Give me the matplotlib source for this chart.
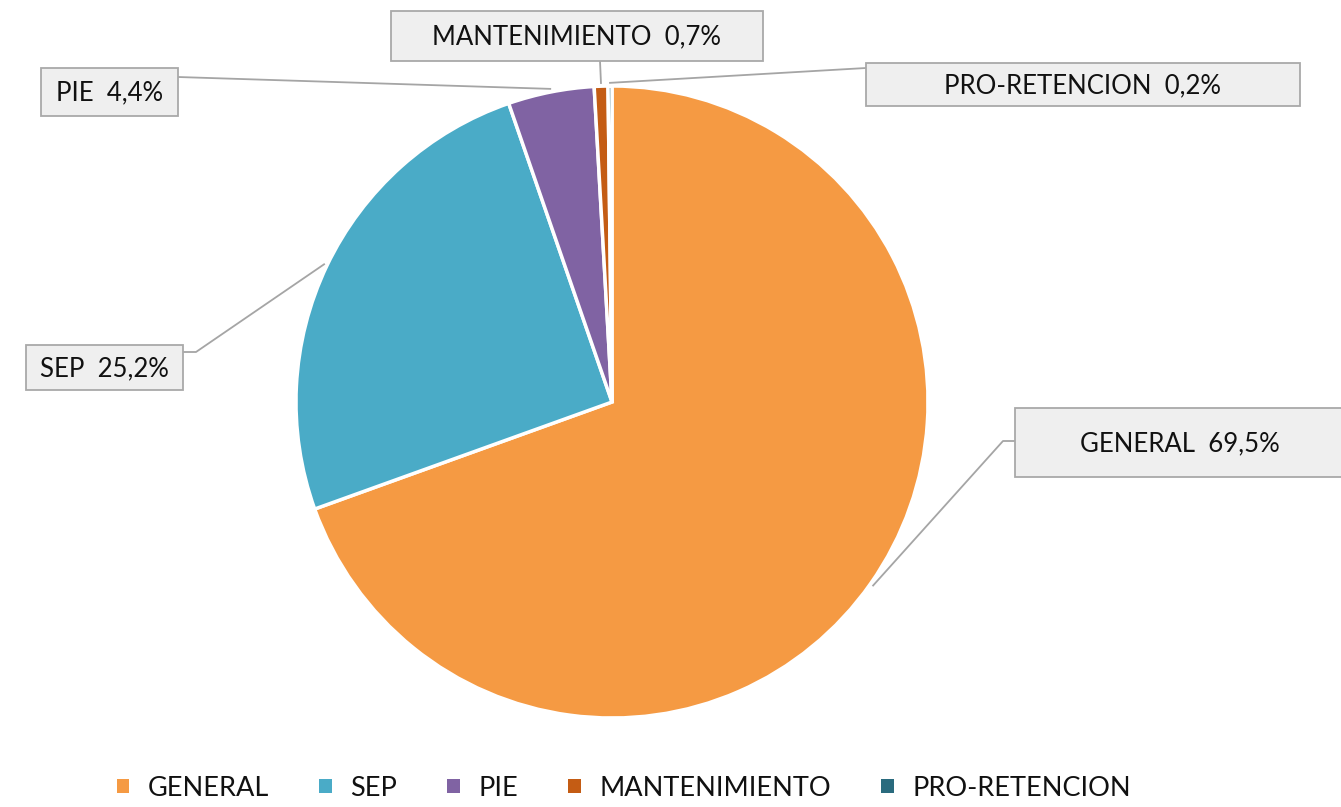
import numpy as np
import matplotlib
matplotlib.use("Agg")
import matplotlib.pyplot as plt
from matplotlib.patches import Rectangle, Patch

plt.rcParams['font.family'] = ['Lato', 'DejaVu Sans']

# data
categories = ['GENERAL', 'SEP', 'PIE', 'MANTENIMIENTO', 'PRO-RETENCION']
values = [69.5, 25.2, 4.4, 0.7, 0.2]
value_labels = ['69,5%', '25,2%', '4,4%', '0,7%', '0,2%']
colors = ['#F59A43', '#4AABC7', '#8063A3', '#C45C14', '#2A6B7E']

W, H = 1341, 807
fig = plt.figure(figsize=(W / 100, H / 100), dpi=100)
ax = fig.add_axes([0, 0, 1, 1])
ax.set_xlim(0, W)
ax.set_ylim(0, H)
ax.set_aspect('equal')
ax.axis('off')

cx, cy, r = 612, H - 402, 316
wedges, _ = ax.pie(values, colors=colors, startangle=90, counterclock=False,
                   center=(cx, cy), radius=r, frame=True,
                   wedgeprops=dict(edgecolor='white', linewidth=2.5))
ax.set_xlim(0, W)
ax.set_ylim(0, H)
ax.axis('off')

# label boxes in image pixels: x0, y_top, x1, y_bottom
boxes = [(1015, 408, 1345, 477), (26, 345, 183, 390), (41, 68, 178, 116),
         (391, 11, 763, 61), (866, 63, 1300, 106)]
# leader line points from box towards the slice (image pixels)
leaders = [[(1015, 441), (1003, 441)], [(183, 352), (196, 352)], [(178, 77)],
           [(600, 61)], [(866, 68)]]

for i, w in enumerate(wedges):
    mid = np.deg2rad((w.theta1 + w.theta2) / 2)
    ex = cx + r * 1.01 * np.cos(mid)
    ey = cy + r * 1.01 * np.sin(mid)
    pts = [(x, H - y) for x, y in leaders[i]] + [(ex, ey)]
    ax.plot([p[0] for p in pts], [p[1] for p in pts], color='#a5a5a5', lw=1.3,
            zorder=1)
    x0, yt, x1, yb = boxes[i]
    ax.add_patch(Rectangle((x0, H - yb), x1 - x0, yb - yt, facecolor='#efefef',
                           edgecolor='#a9a9a9', lw=1.3, zorder=3))
    ax.text((x0 + x1) / 2, H - (yt + yb) / 2 - 1, f'{categories[i]}  {value_labels[i]}',
            ha='center', va='center', fontsize=18.5, color='#111111', zorder=4)

handles = [Patch(facecolor=c, edgecolor='none') for c in colors]
ax.legend(handles, categories, loc='center', bbox_to_anchor=(624 / W, 1 - 788 / H),
          ncol=5, frameon=False, fontsize=19.5, handlelength=0.45, handleheight=0.45,
          columnspacing=1.85, handletextpad=0.7, labelcolor='#111111')

fig.savefig('out.png', dpi=100)
